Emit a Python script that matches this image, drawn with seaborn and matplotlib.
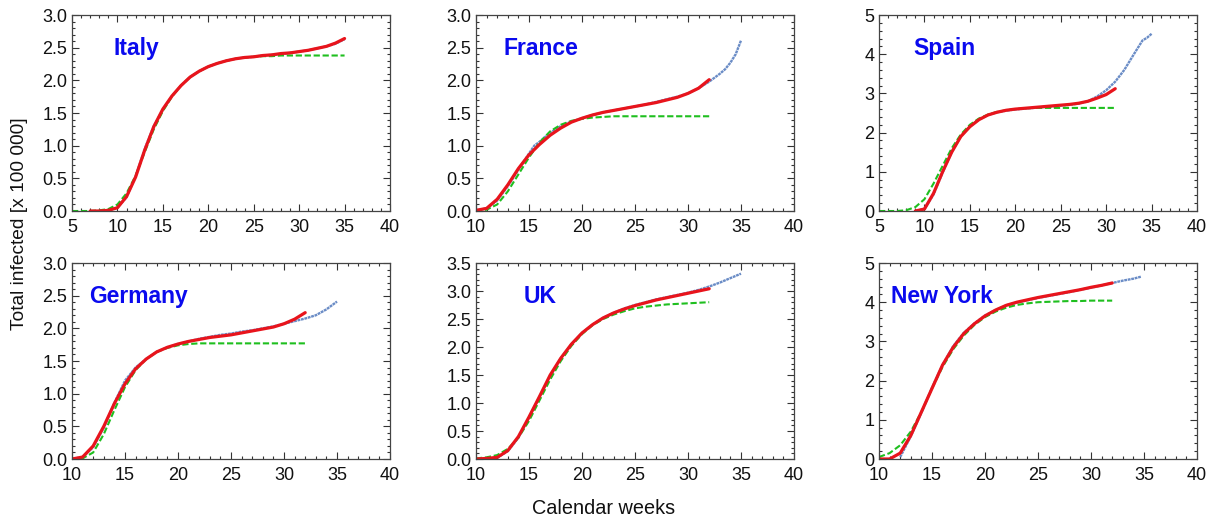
import numpy as np
import pandas as pd
import matplotlib
matplotlib.use("Agg")
import matplotlib.pyplot as plt
from matplotlib.ticker import MultipleLocator, FormatStrFormatter
import seaborn as sns

# data (values in units of 100 000)
italy_wk_red = list(range(7, 36))
italy_red = [0, 0, 0.01, 0.05, 0.22, 0.52, 0.93, 1.29, 1.56, 1.76, 1.92, 2.05, 2.14, 2.21, 2.26,
             2.30, 2.33, 2.35, 2.36, 2.38, 2.39, 2.41, 2.42, 2.44, 2.46, 2.49, 2.52, 2.57, 2.64]
italy_wk_green = list(range(5, 36))
italy_green = [0, 0, 0, 0.01, 0.03, 0.10, 0.27, 0.54, 0.90, 1.25, 1.53, 1.75, 1.92, 2.05, 2.14, 2.21,
               2.26, 2.30, 2.33, 2.35, 2.36, 2.37, 2.37, 2.38, 2.38, 2.38, 2.38, 2.38, 2.38, 2.38, 2.38]
italy_wk_blue = list(range(8, 36))
italy_blue = [0, 0.01, 0.05, 0.21, 0.53, 0.95, 1.30, 1.55, 1.76, 1.92, 2.05, 2.14, 2.21, 2.26,
              2.30, 2.33, 2.35, 2.36, 2.38, 2.39, 2.40, 2.42, 2.44, 2.46, 2.49, 2.52, 2.56, 2.63]

france_wk_red = list(range(10, 33))
france_red = [0.01, 0.04, 0.18, 0.40, 0.65, 0.86, 1.02, 1.16, 1.27, 1.36, 1.42, 1.47, 1.51, 1.54,
              1.57, 1.60, 1.63, 1.66, 1.70, 1.74, 1.80, 1.88, 2.01]
france_wk_green = list(range(10, 33))
france_green = [0, 0.02, 0.10, 0.30, 0.56, 0.82, 1.05, 1.22, 1.32, 1.38, 1.41, 1.43, 1.44, 1.45,
                1.45, 1.45, 1.45, 1.45, 1.45, 1.45, 1.45, 1.45, 1.45]
france_wk_blue = [10, 11, 12, 13, 14, 15, 15.5, 16, 17, 18, 19, 20, 21, 22, 23, 24, 25, 26, 27, 28,
                  29, 30, 31, 32, 32.5, 33, 33.5, 34, 34.5, 35]
france_blue = [0.01, 0.04, 0.16, 0.38, 0.63, 0.88, 1.00, 1.06, 1.20, 1.30, 1.37, 1.42, 1.47, 1.51,
               1.54, 1.57, 1.60, 1.63, 1.67, 1.71, 1.75, 1.80, 1.88, 1.98, 2.04, 2.10, 2.17, 2.27, 2.40, 2.61]

spain_wk_red = list(range(9, 32))
spain_red = [0, 0.05, 0.45, 1.00, 1.50, 1.90, 2.15, 2.33, 2.45, 2.52, 2.57, 2.60, 2.62, 2.64,
             2.66, 2.68, 2.70, 2.72, 2.75, 2.80, 2.88, 2.97, 3.12]
spain_wk_green = list(range(5, 32))
spain_green = [0, 0, 0, 0.02, 0.10, 0.30, 0.70, 1.15, 1.60, 1.95, 2.20, 2.36, 2.46, 2.53, 2.57,
               2.60, 2.62, 2.63, 2.63, 2.63, 2.63, 2.63, 2.63, 2.63, 2.63, 2.63, 2.63]
spain_wk_blue = list(range(9, 34)) + [34, 34.5, 35]
spain_blue = [0, 0.05, 0.42, 0.98, 1.50, 1.90, 2.16, 2.33, 2.45, 2.52, 2.56, 2.59, 2.61, 2.63,
              2.65, 2.67, 2.69, 2.71, 2.74, 2.80, 2.92, 3.08, 3.30, 3.60, 3.98, 4.35, 4.42, 4.52]

germany_wk_red = list(range(10, 33))
germany_red = [0, 0.03, 0.20, 0.50, 0.85, 1.15, 1.38, 1.53, 1.64, 1.71, 1.76, 1.80, 1.83, 1.86,
               1.88, 1.90, 1.93, 1.96, 1.99, 2.02, 2.07, 2.14, 2.24]
germany_wk_green = list(range(10, 33))
germany_green = [0, 0.01, 0.10, 0.38, 0.75, 1.10, 1.36, 1.53, 1.64, 1.70, 1.74, 1.76, 1.77, 1.77,
                 1.77, 1.77, 1.77, 1.77, 1.77, 1.77, 1.77, 1.77, 1.77]
germany_wk_blue = list(range(10, 36))
germany_blue = [0, 0.03, 0.18, 0.48, 0.86, 1.20, 1.40, 1.53, 1.64, 1.71, 1.76, 1.80, 1.84, 1.87,
                1.90, 1.92, 1.95, 1.97, 2.00, 2.03, 2.07, 2.11, 2.15, 2.20, 2.29, 2.41]

uk_wk_red = list(range(10, 33))
uk_red = [0, 0.01, 0.03, 0.15, 0.40, 0.75, 1.12, 1.50, 1.80, 2.05, 2.25, 2.40, 2.52, 2.61,
          2.68, 2.74, 2.79, 2.84, 2.88, 2.92, 2.96, 3.00, 3.04]
uk_wk_green = list(range(10, 33))
uk_green = [0.01, 0.03, 0.07, 0.18, 0.38, 0.68, 1.05, 1.42, 1.75, 2.02, 2.23, 2.39, 2.50, 2.58,
            2.64, 2.69, 2.72, 2.74, 2.76, 2.77, 2.78, 2.79, 2.80]
uk_wk_blue = list(range(12, 36))
uk_blue = [0.02, 0.14, 0.38, 0.74, 1.11, 1.48, 1.80, 2.05, 2.25, 2.40, 2.52, 2.61, 2.69, 2.75,
           2.80, 2.85, 2.89, 2.93, 2.97, 3.02, 3.08, 3.15, 3.23, 3.31]

ny_wk_red = list(range(10, 33))
ny_red = [0, 0, 0.15, 0.60, 1.20, 1.80, 2.40, 2.85, 3.20, 3.45, 3.65, 3.80, 3.92, 4.00,
          4.06, 4.12, 4.17, 4.22, 4.27, 4.32, 4.38, 4.43, 4.49]
ny_wk_green = list(range(10, 33))
ny_green = [0.05, 0.15, 0.35, 0.70, 1.20, 1.80, 2.35, 2.80, 3.15, 3.42, 3.62, 3.76, 3.86, 3.93,
            3.97, 4.00, 4.01, 4.02, 4.03, 4.03, 4.04, 4.04, 4.04]
ny_wk_blue = list(range(12, 35)) + [34.7]
ny_blue = [0.05, 0.58, 1.18, 1.82, 2.40, 2.88, 3.22, 3.46, 3.66, 3.80, 3.92, 3.99,
           4.05, 4.11, 4.16, 4.21, 4.26, 4.32, 4.37, 4.43, 4.49, 4.55, 4.60, 4.65]

panels = [
    ("Italy", italy_wk_blue, italy_blue, italy_wk_red, italy_red, italy_wk_green, italy_green,
     5, 3.0, 0.5, 0.1, "%.1f", 0.13),
    ("France", france_wk_blue, france_blue, france_wk_red, france_red, france_wk_green, france_green,
     10, 3.0, 0.5, 0.1, "%.1f", 0.085),
    ("Spain", spain_wk_blue, spain_blue, spain_wk_red, spain_red, spain_wk_green, spain_green,
     5, 5, 1, 0.2, "%d", 0.107),
    ("Germany", germany_wk_blue, germany_blue, germany_wk_red, germany_red, germany_wk_green, germany_green,
     10, 3.0, 0.5, 0.1, "%.1f", 0.053),
    ("UK", uk_wk_blue, uk_blue, uk_wk_red, uk_red, uk_wk_green, uk_green,
     10, 3.5, 0.5, 0.1, "%.1f", 0.15),
    ("New York", ny_wk_blue, ny_blue, ny_wk_red, ny_red, ny_wk_green, ny_green,
     10, 5, 1, 0.2, "%d", 0.038),
]

sns.set_theme(style="ticks")
plt.rcParams['font.family'] = ['Liberation Sans', 'DejaVu Sans']

fig = plt.figure(figsize=(12.11, 5.16), dpi=100)
lefts = [72, 476, 879]
bottoms = [211, 459]

for i, (name, bx, by, rx, ry, gx, gy, xmin, ymax, ymaj, ymin_, fmt, tx) in enumerate(panels):
    r, c = divmod(i, 3)
    ax = fig.add_axes([lefts[c] / 1211, 1 - bottoms[r] / 516, 318 / 1211, 196 / 516])
    sns.lineplot(x=bx, y=by, ax=ax, color="#6A8CC6", lw=1.7, linestyle=(0, (1.2, 0.3)))
    sns.lineplot(x=gx, y=gy, ax=ax, color="#1FBF1F", lw=1.5, linestyle=(0, (3, 1.3)))
    sns.lineplot(x=rx, y=ry, ax=ax, color="#E8141C", lw=2.3)
    ax.set_xlim(xmin, 40)
    ax.set_ylim(0, ymax)
    ax.xaxis.set_major_locator(MultipleLocator(5))
    ax.xaxis.set_minor_locator(MultipleLocator(1))
    ax.yaxis.set_major_locator(MultipleLocator(ymaj))
    ax.yaxis.set_minor_locator(MultipleLocator(ymin_))
    ax.yaxis.set_major_formatter(FormatStrFormatter(fmt))
    ax.tick_params(which="both", direction="in", top=True, right=True, colors="#333333",
                   labelcolor="#111111", labelsize=13, width=0.8)
    ax.tick_params(which="major", length=5)
    ax.tick_params(which="minor", length=2.5)
    ax.tick_params(axis="x", which="major", pad=5.5)
    for s in ax.spines.values():
        s.set_color("#444444")
        s.set_linewidth(0.9)
    ax.set_xlabel("")
    ax.set_ylabel("")
    ax.text(tx, 0.83, name, transform=ax.transAxes, color="#0A0AEE", fontsize=16.5,
            fontweight="bold", va="center", ha="left")

fig.text(20 / 1211, 1 - 224 / 516, "Total infected [x 100 000]", rotation=90,
         ha="center", va="center", fontsize=13.8, color="#111111")
fig.text(604 / 1211, 1 - 508 / 516, "Calendar weeks", ha="center", va="center",
         fontsize=14.3, color="#111111")

fig.savefig("out.png", dpi=100)
